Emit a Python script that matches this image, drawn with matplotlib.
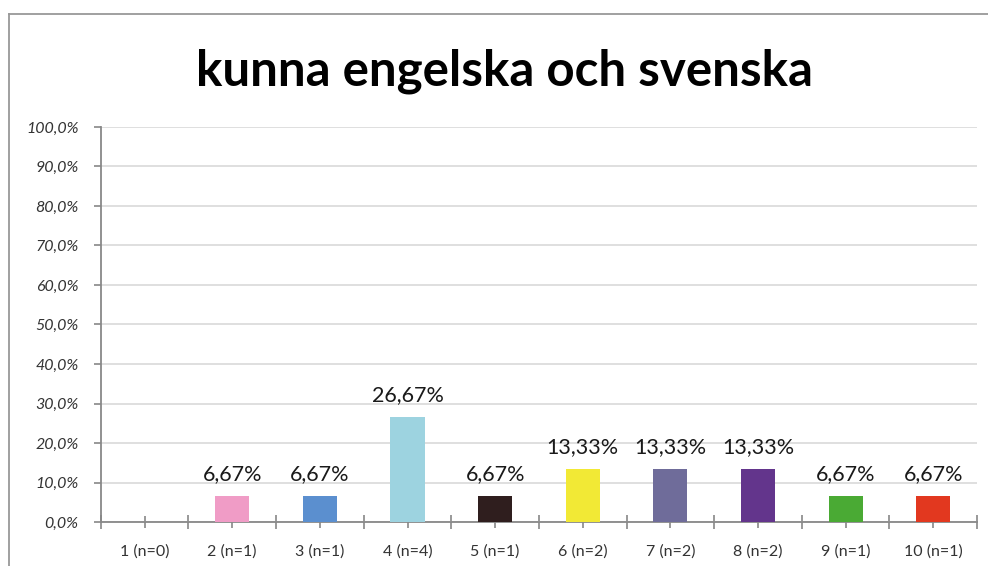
import matplotlib
matplotlib.use("Agg")
import matplotlib.pyplot as plt
from matplotlib.lines import Line2D

# --- data ---
categories = ["1 (n=0)", "2 (n=1)", "3 (n=1)", "4 (n=4)", "5 (n=1)",
              "6 (n=2)", "7 (n=2)", "8 (n=2)", "9 (n=1)", "10 (n=1)"]
values = [0.0, 6.67, 6.67, 26.67, 6.67, 13.33, 13.33, 13.33, 6.67, 6.67]
bar_colors = ["#FFFFFF", "#F09CC6", "#5B8FCF", "#9DD3E0", "#2F1E1E",
              "#F2E935", "#6F6C9A", "#63358C", "#4AAA34", "#E2381F"]
title = "kunna engelska och svenska"
y_ticks = list(range(0, 101, 10))

plt.rcParams['font.family'] = ['Lato', 'DejaVu Sans']

fig = plt.figure(figsize=(9.88, 5.66), dpi=100)
ax = fig.add_axes([0.102, 0.0777, 0.887, 0.698])

x = list(range(len(categories)))
bars = ax.bar(x, values, width=0.39, color=bar_colors, zorder=3)

for xi, v in zip(x, values):
    if v > 0:
        ax.text(xi, v + 3.0, f"{v:.2f}%".replace(".", ","), ha="center", va="bottom",
                fontsize=15.5, color="#1a1a1a")

ax.set_xlim(-0.5, len(categories) - 0.5)
ax.set_ylim(0, 100)
ax.set_yticks(y_ticks)
ax.set_yticklabels([f"{t:.1f}%".replace(".", ",") for t in y_ticks],
                   fontstyle="italic", fontsize=11.5, color="#333333")
ax.set_xticks(x)
ax.set_xticklabels(categories, fontsize=11.5, color="#333333")
ax.set_xticks([i - 0.5 for i in range(len(categories) + 1)], minor=True)

ax.yaxis.grid(True, color="#D9D9D9", linewidth=1.2, zorder=0)
for s in ["top", "right"]:
    ax.spines[s].set_visible(False)
for s in ["left", "bottom"]:
    ax.spines[s].set_color("#888888")
    ax.spines[s].set_linewidth(1.3)

ax.tick_params(axis="y", length=5, width=1.2, color="#888888", pad=11)
ax.tick_params(axis="x", which="major", direction="inout", length=8, width=1.2,
               color="#888888", pad=12)
ax.tick_params(axis="x", which="minor", direction="inout", length=10, width=1.2,
               color="#888888")

fig.text(0.511, 0.874, title, ha="center", va="center", fontsize=35.5,
         fontweight="bold", color="black")

# outer frame (left and top edges visible in the reference)
fig.add_artist(Line2D([0.009, 0.009], [0.0, 0.976], transform=fig.transFigure,
                      color="#999999", linewidth=1.3))
fig.add_artist(Line2D([0.009, 0.9995], [0.976, 0.976], transform=fig.transFigure,
                      color="#999999", linewidth=1.3))

fig.savefig("out.png", dpi=100)
